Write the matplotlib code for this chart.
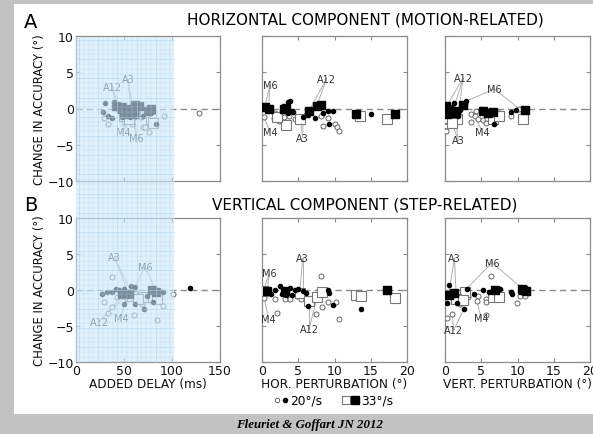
import numpy as np
import matplotlib
matplotlib.use("Agg")
import matplotlib.pyplot as plt
from matplotlib.patches import Rectangle
from matplotlib.lines import Line2D

# ---- data: (x, change in accuracy) per panel and per marker type ----
# oc = open circle (20°/s), fc = filled circle (20°/s)
# os = open square (33°/s), fs = filled square (33°/s)

# Row A, horizontal component
a_delay_fc = [(30, 0.8), (28, -0.5), (33, -1.0), (37, -1.3), (45, -0.3), (48, -1.2), (52, -0.6),
              (62, -1.0), (70, -1.1), (83, -2.2), (40, 0.9), (56, -1.2), (60, -0.9), (80, -0.3), (50, -0.5)]
a_delay_oc = [(29, -1.3), (33, -2.2), (55, -1.6), (58, -2.2), (68, -1.2), (70, -2.6), (72, -2.5),
              (76, -3.2), (80, -1.5), (82, -1.9), (92, -1.1), (128, -0.6), (63, -1.0), (50, -1.8)]
a_delay_fs = [(42, 0.4), (50, -0.7), (48, 0.2), (57, 0.0), (60, -0.7), (61, 0.5), (66, 0.4),
              (75, -0.3), (78, 0.0)]
a_delay_os = [(50, -1.0), (55, -1.5), (60, -0.3), (78, -1.4), (80, -2.0), (72, -0.5)]

a_hor_fc = [(3.6, 0.9), (3.8, 1.0), (2.9, 0.1), (4.3, -0.45), (3.6, -0.6), (5.7, -1.2), (6.3, -0.9),
            (7.3, -1.3), (9.1, -0.3), (9.8, -0.3), (8.4, -0.6), (9.2, -2.2), (15.0, -0.7),
            (2.7, -0.4), (4.2, -0.3)]
a_hor_oc = [(0.3, -1.2), (1.8, -0.6), (1.6, -1.3), (2.3, -1.7), (3.0, -1.2), (4.6, -1.5), (6.1, -0.9),
            (8.2, -1.1), (8.4, -2.4), (9.1, -1.3), (10.0, -2.1), (10.3, -2.6), (10.6, -3.1),
            (5.2, -1.7), (3.7, -1.1)]
a_hor_fs = [(0.4, 0.2), (0.9, 0.0), (3.0, 0.0), (3.3, 0.1), (6.5, -0.4), (7.6, 0.4), (8.2, 0.55),
            (13.0, -0.7), (18.3, -0.8)]
a_hor_os = [(3.3, -2.3), (5.3, -1.5), (13.5, -1.1), (17.2, -1.4), (2.1, -1.2)]

a_vert_fc = [(1.3, 0.8), (2.9, 1.0), (2.7, 0.6), (2.0, -0.2), (4.9, -0.1), (5.4, -0.5), (9.1, -0.5),
             (9.8, -0.2), (6.8, -2.1), (1.8, -1.0), (0.7, -0.6)]
a_vert_oc = [(0.3, -1.7), (0.2, -2.4), (0.2, -3.1), (0.6, -2.0), (3.6, -0.75), (4.1, -1.0), (3.6, -1.8),
             (4.5, -1.4), (5.2, -1.6), (5.8, -1.5), (7.5, -0.6), (9.1, -1.1), (10.2, 0.0),
             (5.6, -2.0), (4.3, -0.3)]
a_vert_fs = [(0.2, 0.3), (0.6, -0.1), (1.0, -0.6), (1.5, -0.4), (2.5, 0.55), (5.2, -0.35),
             (5.9, -0.6), (6.6, -0.5), (11.0, -0.2), (0.3, -0.7), (0.8, -0.3)]
a_vert_os = [(0.5, -1.3), (1.6, -1.5), (6.6, -1.4), (7.5, -1.1), (10.8, -1.4), (1.0, -2.0)]

# Row B, vertical component
b_delay_fc = [(27, -0.5), (32, -0.3), (37, -0.3), (42, 0.2), (45, 0.0), (50, 0.1), (57, 0.5),
              (61, 0.4), (50, -2.0), (61, -2.0), (71, -2.6), (80, -1.7), (74, -0.9), (86, -0.2),
              (91, -0.3), (119, 0.3)]
b_delay_oc = [(37, 1.8), (29, -1.6), (33, -3.2), (37, -2.3), (60, -3.5), (84, -4.1), (91, -2.2),
              (101, -0.5), (69, -2.0), (53, -1.3), (43, -1.0)]
b_delay_fs = [(79, 0.0), (48, -0.5), (55, -0.6), (83, -0.3)]
b_delay_os = [(70, -1.0), (80, -1.0), (58, -0.8), (65, -1.3), (84, -1.3)]

b_hor_fc = [(2.5, 0.5), (1.8, 0.0), (3.9, 0.3), (4.5, 0.0), (3.3, -0.7), (4.2, -0.7), (5.6, -0.2),
            (6.1, -0.4), (6.4, -2.2), (9.1, 0.0), (9.2, -0.4), (9.8, -2.1), (13.7, -2.6),
            (1.3, -0.6), (2.7, -0.6), (5.0, 0.2)]
b_hor_oc = [(0.3, -1.1), (1.8, -1.3), (2.0, -3.2), (3.2, -1.3), (3.9, -1.3), (5.4, -1.3), (8.2, 1.9),
            (8.3, -2.3), (7.5, -3.4), (9.1, -1.6), (10.2, -1.6), (10.6, -4.0), (4.8, -0.9)]
b_hor_fs = [(0.7, -0.2), (3.2, -0.1), (17.2, 0.0)]
b_hor_os = [(0.2, -0.1), (5.2, -0.4), (6.5, -1.5), (7.6, -1.0), (8.3, -0.3), (13.0, -0.7),
            (13.6, -0.9), (18.3, -1.1)]

b_vert_fc = [(0.6, 0.7), (3.0, 0.2), (4.0, -0.6), (5.2, 0.0), (6.0, -0.3), (7.6, 0.2), (9.1, -0.3),
             (9.3, -0.6), (2.6, -2.6), (0.3, -1.8), (1.6, -1.8), (1.2, -0.3)]
b_vert_oc = [(6.3, 1.9), (3.2, -1.0), (4.5, -0.9), (5.7, -1.2), (5.7, -1.6), (4.4, -1.5), (10.4, -0.9),
             (11.1, -0.9), (9.9, -1.8), (1.0, -3.4), (0.3, -3.9), (5.7, -3.5), (2.1, -1.9)]
b_vert_fs = [(10.8, 0.0), (11.2, -0.1), (6.9, 0.0), (0.6, -0.7), (1.2, -0.4), (10.6, 0.2)]
b_vert_os = [(2.7, -0.3), (6.6, -1.0), (7.5, -1.0), (1.5, -1.2), (2.5, -1.4)]

# annotations: (label, text position, points the lines go to)
a_delay_notes = [("A12", (38, 3.0), [(42, 0.4), (45, 0.0)]),
                 ("A3", (54, 4.1), [(57, 0.0), (60, -0.7)]),
                 ("M4", (49, -3.2), [(52, -0.6), (55, -1.6)]),
                 ("M6", (63, -4.0), [(58, -0.8), (61, -0.5)])]
a_hor_notes = [("M6", (1.1, 3.2), [(0.4, 0.3), (0.9, 0.1)]),
               ("M4", (1.1, -3.3), [(0.3, -1.2)]),
               ("A12", (8.9, 4.1), [(6.5, -0.3), (7.6, 0.5)]),
               ("A3", (5.6, -4.0), [(5.3, -1.4), (5.7, -1.2)])]
a_vert_notes = [("A12", (2.5, 4.2), [(0.2, 0.3), (1.0, -0.6), (1.8, -1.0)]),
                ("M6", (6.8, 2.7), [(2.9, 1.0), (10.2, 0.0)]),
                ("M4", (5.2, -3.3), [(4.1, -1.0)]),
                ("A3", (1.8, -4.4), [(1.0, -2.0), (1.5, -1.5)])]
b_delay_notes = [("A3", (40, 4.6), [(55, -0.6), (58, -0.4)]),
                 ("M6", (72, 3.2), [(61, 0.4), (84, -0.3)]),
                 ("A12", (24, -4.4), [(45, -1.3), (52, -0.9)]),
                 ("M4", (47, -3.9), [(50, -2.0)])]
b_hor_notes = [("A3", (5.6, 4.4), [(5.2, -0.4), (5.6, -0.2)]),
               ("M6", (1.0, 2.3), [(0.2, -0.1), (0.7, -0.2)]),
               ("M4", (0.9, -4.0), [(0.3, -1.1)]),
               ("A12", (6.5, -5.4), [(6.5, -1.5), (7.6, -1.0)])]
b_vert_notes = [("A3", (1.3, 4.4), [(0.3, -1.8), (1.6, -1.8)]),
                ("M6", (6.5, 3.8), [(3.0, 0.2), (10.8, 0.1)]),
                ("M4", (5.0, -3.9), [(4.4, -1.5)]),
                ("A12", (1.2, -5.6), [(1.0, -3.4), (2.6, -2.6)])]

delay_ticks = [0, 50, 100, 150]
pert_ticks = [0, 5, 10, 15, 20]
acc_ticks = [-10, -5, 0, 5, 10]

W, H = 593, 435
fig = plt.figure(figsize=(W / 100, H / 100), dpi=100, facecolor="#c2c2c2")
fig.patches.append(Rectangle((14 / W, 1 - 415 / H), 1, 410 / H, transform=fig.transFigure,
                             facecolor="white", edgecolor="none", zorder=-5))


def px_axes(x0, y0, x1, y1):
    return fig.add_axes([x0 / W, 1 - y1 / H, (x1 - x0) / W, (y1 - y0) / H])


def draw_panel(ax, fc, oc, fs, os_, notes, xlim, xticks, show_x, show_y, xlabel=None):
    ax.set_facecolor("none")
    ax.axhline(0, color="#8a8a8a", lw=1.0, dashes=(4.5, 3), zorder=1)
    for lab, (tx, ty), targets in notes:
        for px, py in targets:
            ax.plot([tx, px], [ty, py], color="#b0b0b0", lw=0.7, zorder=2)
        ax.text(tx, ty, lab, fontsize=7, color="#333333", ha="center", va="center", zorder=6)
    x, y = np.array(oc).T
    ax.plot(x, y, "o", ms=3.6, mfc="white", mec="#666666", mew=0.7, ls="none", zorder=3)
    x, y = np.array(os_).T
    ax.plot(x, y, "s", ms=6.5, mfc="white", mec="#777777", mew=0.8, ls="none", zorder=3)
    x, y = np.array(fs).T
    ax.plot(x, y, "s", ms=5.5, mfc="black", mec="black", ls="none", zorder=4)
    x, y = np.array(fc).T
    ax.plot(x, y, "o", ms=3.0, mfc="black", mec="black", ls="none", zorder=5)
    ax.set_xlim(xlim)
    ax.set_ylim(-10, 10)
    ax.set_xticks(xticks)
    ax.set_yticks(acc_ticks)
    for s in ax.spines.values():
        s.set_color("#8c8c8c")
        s.set_linewidth(0.9)
    ax.tick_params(direction="in", length=3, width=0.8, color="#8c8c8c", top=True, right=True,
                   labelsize=9, pad=1.5, labelcolor="#111111")
    if not show_x:
        ax.set_xticklabels([])
    if not show_y:
        ax.set_yticklabels([])
    else:
        ax.set_ylabel("CHANGE IN ACCURACY (°)", fontsize=8.4, labelpad=1, color="#111111")
    if xlabel:
        ax.set_xlabel(xlabel, fontsize=8.7, labelpad=0, color="#111111")


cols = [(76, 220), (262, 407), (445, 590)]
rows = [(37, 182), (219, 363)]

ax = px_axes(cols[0][0], rows[0][0], cols[0][1], rows[0][1])
draw_panel(ax, a_delay_fc, a_delay_oc, a_delay_fs, a_delay_os, a_delay_notes, (0, 150), delay_ticks, False, True)
ax = px_axes(cols[1][0], rows[0][0], cols[1][1], rows[0][1])
draw_panel(ax, a_hor_fc, a_hor_oc, a_hor_fs, a_hor_os, a_hor_notes, (0, 20), pert_ticks, False, False)
ax = px_axes(cols[2][0], rows[0][0], cols[2][1], rows[0][1])
draw_panel(ax, a_vert_fc, a_vert_oc, a_vert_fs, a_vert_os, a_vert_notes, (0, 20), pert_ticks, False, False)

ax = px_axes(cols[0][0], rows[1][0], cols[0][1], rows[1][1])
draw_panel(ax, b_delay_fc, b_delay_oc, b_delay_fs, b_delay_os, b_delay_notes, (0, 150), delay_ticks, True, True,
           "ADDED DELAY (ms)")
ax = px_axes(cols[1][0], rows[1][0], cols[1][1], rows[1][1])
draw_panel(ax, b_hor_fc, b_hor_oc, b_hor_fs, b_hor_os, b_hor_notes, (0, 20), pert_ticks, True, False,
           "HOR. PERTURBATION (°)")
ax = px_axes(cols[2][0], rows[1][0], cols[2][1], rows[1][1])
draw_panel(ax, b_vert_fc, b_vert_oc, b_vert_fs, b_vert_os, b_vert_notes, (0, 20), pert_ticks, True, False,
           "VERT. PERTURBATION (°)")

# headings
fig.text(24 / W, 1 - 22 / H, "A", fontsize=14, va="center", ha="left")
fig.text(24 / W, 1 - 206 / H, "B", fontsize=14, va="center", ha="left")
fig.text(365 / W, 1 - 20 / H, "HORIZONTAL COMPONENT (MOTION-RELATED)", fontsize=11, ha="center", va="center")
fig.text(365 / W, 1 - 205 / H, "VERTICAL COMPONENT (STEP-RELATED)", fontsize=11, ha="center", va="center")

# blue grid band over the left column
bx0, bx1, by0, by1 = 76, 174, 38, 363
fig.patches.append(Rectangle((bx0 / W, 1 - by1 / H), (bx1 - bx0) / W, (by1 - by0) / H,
                             transform=fig.transFigure, facecolor="#cde8fb", edgecolor="none",
                             alpha=0.6, zorder=10))
for i, gx in enumerate(np.arange(bx0 + 3, bx1, 4.8)):
    fig.add_artist(Line2D([gx / W, gx / W], [1 - by1 / H, 1 - by0 / H], color="#a9d5f5",
                          lw=0.6 if i % 4 == 0 else 0.35, alpha=0.6, zorder=11))
for i, gy in enumerate(np.arange(by0 + 3, by1, 4.8)):
    fig.add_artist(Line2D([bx0 / W, bx1 / W], [1 - gy / H, 1 - gy / H], color="#a9d5f5",
                          lw=0.6 if i % 4 == 0 else 0.35, alpha=0.6, zorder=11))

# legend row
ly = 1 - 401 / H
fig.add_artist(Line2D([277 / W], [ly], marker="o", ms=3.2, mfc="white", mec="#666666", mew=0.7))
fig.add_artist(Line2D([285 / W], [ly], marker="o", ms=3.0, mfc="black", mec="black"))
fig.text(290 / W, ly, "20°/s", fontsize=8.8, va="center", ha="left")
fig.add_artist(Line2D([346 / W], [ly], marker="s", ms=5.5, mfc="white", mec="#777777", mew=0.8))
fig.add_artist(Line2D([355 / W], [ly], marker="s", ms=5.5, mfc="black", mec="black"))
fig.text(361 / W, ly, "33°/s", fontsize=8.8, va="center", ha="left")

fig.text(310 / W, 1 - 425 / H, "Fleuriet & Goffart JN 2012", fontsize=9.3, family="Liberation Serif",
         weight="bold", style="italic", ha="center", va="center")

fig.savefig("out.png", dpi=100, facecolor=fig.get_facecolor())
